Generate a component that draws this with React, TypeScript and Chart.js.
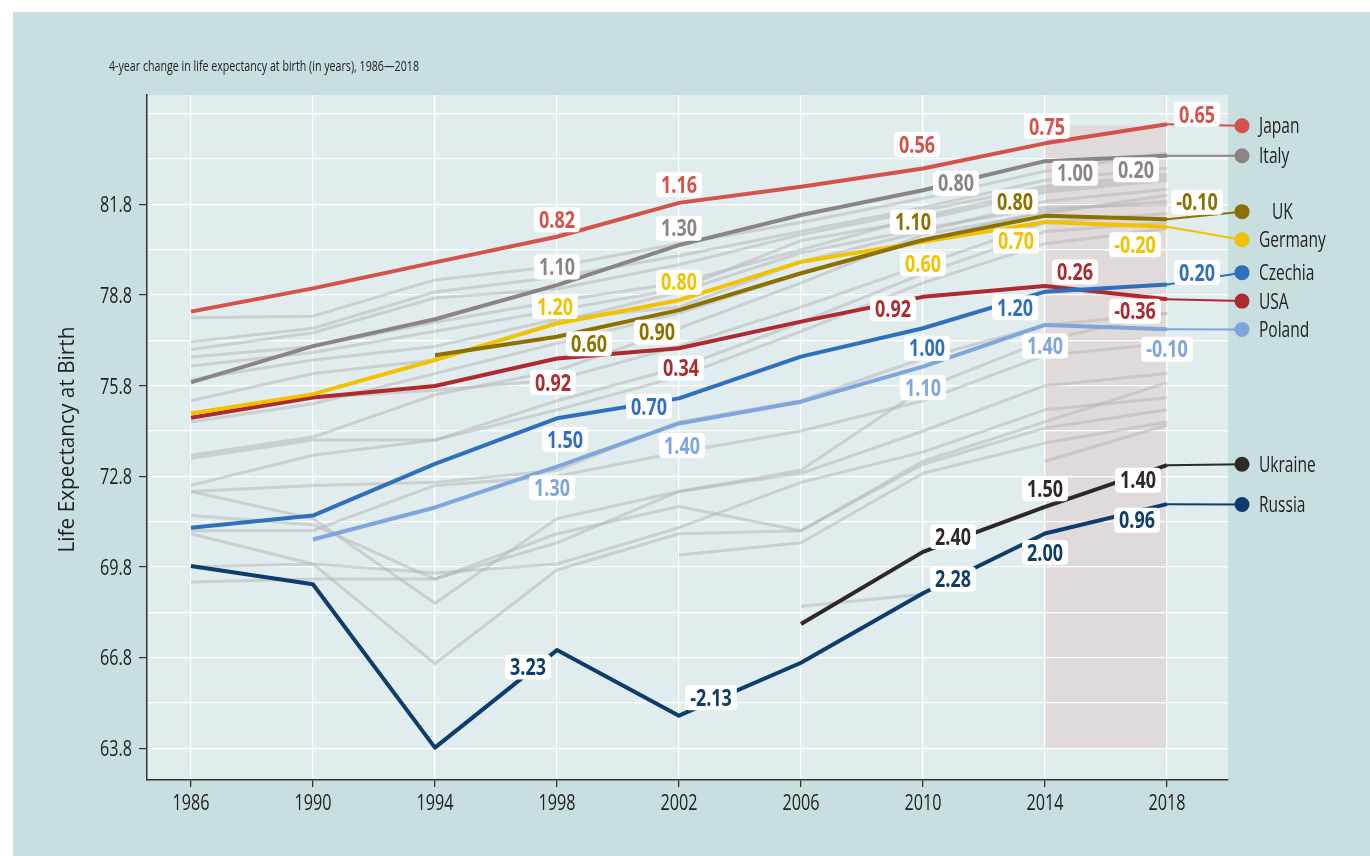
import React, { useEffect, useRef } from 'react';
import { Chart, registerables } from 'chart.js';

Chart.register(...registerables);

const FONT = "'Open Sans', 'Liberation Sans', 'DejaVu Sans', sans-serif";

// ---------- data ----------
const years = [1986, 1990, 1994, 1998, 2002, 2006, 2010, 2014, 2018];
const xTickYears = [1986, 1990, 1994, 1998, 2002, 2006, 2010, 2014, 2018];
const yTickValues = [63.8, 65.3, 66.8, 68.3, 69.8, 71.3, 72.8, 74.3, 75.8, 77.3, 78.8, 80.3, 81.8, 83.3, 84.8];
const yTickLabels = ['63.8', '', '66.8', '', '69.8', '', '72.8', '', '75.8', '', '78.8', '', '81.8', '', ''];

const titleText = '4-year change in life expectancy at birth (in years), 1986\u20142018';
const yTitleText = 'Life Expectancy at Birth';

const japan = [78.25, 79.02, 79.88, 80.73, 81.85, 82.38, 82.99, 83.82, 84.45];
const italy = [75.91, 77.11, 78.0, 79.13, 80.45, 81.45, 82.27, 83.23, 83.41];
const uk = [null, null, 76.81, 77.42, 78.3, 79.52, 80.62, 81.42, 81.31];
const germany = [74.88, 75.52, 76.65, 77.86, 78.63, 79.9, 80.56, 81.22, 81.06];
const czechia = [71.1, 71.5, 73.21, 74.72, 75.38, 76.76, 77.7, 78.91, 79.15];
const usa = [74.74, 75.41, 75.79, 76.7, 77.04, 77.92, 78.74, 79.1, 78.66];
const poland = [null, 70.71, 71.77, 73.12, 74.55, 75.27, 76.43, 77.81, 77.67];
const ukraine = [null, null, null, null, null, 67.91, 70.3, 71.79, 73.17];
const russia = [69.83, 69.23, 63.82, 67.05, 64.88, 66.63, 68.93, 70.91, 71.88];

const japanChange = [null, null, null, 0.82, 1.16, null, 0.56, 0.75, 0.65];
const italyChange = [null, null, null, 1.1, 1.3, null, 0.8, 1.0, 0.2];
const ukChange = [null, null, null, 0.6, 0.9, null, 1.1, 0.8, -0.1];
const germanyChange = [null, null, null, 1.2, 0.8, null, 0.6, 0.7, -0.2];
const czechiaChange = [null, null, null, 1.5, 0.7, null, 1.0, 1.2, 0.2];
const usaChange = [null, null, null, 0.92, 0.34, null, 0.92, 0.26, -0.36];
const polandChange = [null, null, null, 1.3, 1.4, null, 1.1, 1.4, -0.1];
const ukraineChange = [null, null, null, null, null, null, 2.4, 1.5, 1.4];
const russiaChange = [null, null, null, 3.23, -2.13, null, 2.28, 2.0, 0.96];

const seriesNames = ['Japan', 'Italy', 'UK', 'Germany', 'Czechia', 'USA', 'Poland', 'Ukraine', 'Russia'];
// where each legend entry sits, in life-expectancy units
const legendAt = [84.4, 83.41, 81.56, 80.63, 79.54, 78.6, 77.66, 73.2, 71.87];

const shadeFrom = 2014;
const shadeTo = 2018;
const shadeTop = 84.4;
const shadeBottom = 63.8;

// other countries (grey background lines)
const grey1 = [78.05, 78.1, 79.3, 79.75, 80.5, 81.2, 82.0, 82.9, 83.5];
const grey2 = [77.25, 77.7, 78.9, 79.4, 80.1, 80.9, 81.7, 82.6, 83.0];
const grey3 = [77.0, 77.55, 78.7, 79.0, 79.8, 80.8, 81.6, 82.4, 82.8];
const grey4 = [76.75, 77.1, 77.9, 78.6, 79.2, 80.3, 81.4, 82.3, 82.7];
const grey5 = [76.45, 76.9, 77.6, 78.3, 79.0, 80.6, 81.3, 82.2, 82.6];
const grey6 = [76.0, 76.65, 77.1, 78.0, 78.4, 79.9, 80.9, 81.9, 82.3];
const grey7 = [75.3, 76.2, 76.65, 77.9, 78.9, 80.2, 81.0, 81.7, 81.8];
const grey8 = [74.6, 75.2, 76.2, 77.2, 78.2, 79.5, 80.6, 81.6, 81.9];
const grey9 = [74.9, 75.4, 75.65, 76.0, 77.1, 78.4, 79.8, 81.2, 81.5];
const grey10 = [73.5, 74.1, 75.5, 76.3, 77.7, 79.2, 80.8, 81.5, 82.1];
const grey11 = [73.4, 74.0, 74.0, 75.3, 76.4, 77.9, 79.5, 80.9, 81.2];
const grey12 = [72.5, 73.5, 74.0, 75.0, 76.1, 77.6, 79.2, 80.5, 81.0];
const grey13 = [72.3, 71.4, 68.6, 71.4, 72.3, 73.0, 75.7, 77.3, 78.2];
const grey14 = [70.9, 69.9, 66.6, 69.7, 70.9, 71.0, 73.2, 74.4, 75.0];
const grey15 = [71.5, 71.2, 69.4, 70.9, 71.8, 71.0, 73.3, 74.6, 75.9];
const grey16 = [69.3, 69.4, 69.4, 70.6, 72.3, 72.9, 74.3, 75.8, 76.2];
const grey17 = [71.0, 71.0, 72.5, 72.8, 73.6, 74.3, 75.3, 76.8, 77.2];
const grey18 = [72.3, 72.5, 72.6, 73.0, 74.6, 75.3, 76.7, 77.8, 78.2];
const grey19 = [69.8, 69.9, 69.6, 69.9, 71.1, 72.6, 73.6, 75.0, 75.4];
const grey20 = [null, null, null, null, 70.2, 70.6, 72.9, 73.9, 74.6];
const grey21 = [null, null, null, null, null, 68.5, 68.9, null, null];
const grey22 = [null, null, null, null, null, null, null, 73.3, 74.5];

const greySeries = [grey1, grey2, grey3, grey4, grey5, grey6, grey7, grey8, grey9, grey10, grey11,
  grey12, grey13, grey14, grey15, grey16, grey17, grey18, grey19, grey20, grey21, grey22];
const mainSeries = [japan, italy, uk, germany, czechia, usa, poland, ukraine, russia];
const mainChanges = [japanChange, italyChange, ukChange, germanyChange, czechiaChange, usaChange,
  polandChange, ukraineChange, russiaChange];

// ---------- styles ----------
const seriesColors = ['#d5524b', '#8a8485', '#8b7100', '#f2c100', '#2f70bd', '#ae2a2e', '#7ea6dc', '#2e2829', '#0c3d6c'];
// label offsets from the point, in pixels [dx, dy], per year index
const labelOffsets = [
  [null, null, null, [0, -17], [0, -18], null, [-6, -24], [2, -17], [30, -10]],
  [null, null, null, [0, -18], [0, -17], null, [33, -7], [30, 12], [-31, 14]],
  [null, null, null, [32, 7], [-22, 22], null, [-10, -18], [-30, -14], [30, -17]],
  [null, null, null, [-2, -17], [0, -18], null, [0, 22], [-29, 19], [-32, 18]],
  [null, null, null, [8, 21], [-30, 8], null, [4, 20], [-30, 16], [30, -12]],
  [null, null, null, [-4, 24], [2, 20], null, [-30, 12], [30, -14], [-32, 12]],
  [null, null, null, [-5, 21], [3, 22], null, [0, 21], [0, 21], [0, 20]],
  [null, null, null, null, null, null, [30, -15], [0, -18], [-29, 15]],
  [null, null, null, [-29, 17], [32, -18], null, [30, -14], [0, 19], [-30, 16]],
];
const legendIndent = [0, 0, 13, 0, 0, 0, 0, 0, 0];
const CAP = 0.714; // cap height ratio of the font
const NARROW = 0.74; // horizontal condensing of regular text
const NARROW_BOLD = 0.78;

const W = 1357;
const H = 844;

function toPoints(arr: (number | null)[]) {
  const pts: { x: number; y: number }[] = [];
  arr.forEach((v, i) => {
    if (v !== null && v !== undefined) pts.push({ x: years[i], y: v });
  });
  return pts;
}

function roundRect(ctx: CanvasRenderingContext2D, x: number, y: number, w: number, h: number, r: number) {
  ctx.beginPath();
  ctx.moveTo(x + r, y);
  ctx.lineTo(x + w - r, y);
  ctx.quadraticCurveTo(x + w, y, x + w, y + r);
  ctx.lineTo(x + w, y + h - r);
  ctx.quadraticCurveTo(x + w, y + h, x + w - r, y + h);
  ctx.lineTo(x + r, y + h);
  ctx.quadraticCurveTo(x, y + h, x, y + h - r);
  ctx.lineTo(x, y + r);
  ctx.quadraticCurveTo(x, y, x + r, y);
  ctx.closePath();
}

// draw text with its vertical centre (of the cap height) at cy, condensed by sx
function drawText(ctx: CanvasRenderingContext2D, text: string, x: number, cy: number, size: number,
  weight: string, sx: number, align: CanvasTextAlign, color: string) {
  ctx.save();
  ctx.font = `${weight} ${size}px ${FONT}`;
  ctx.fillStyle = color;
  ctx.textAlign = align;
  ctx.textBaseline = 'alphabetic';
  ctx.translate(x, cy + (size * CAP) / 2);
  ctx.scale(sx, 1);
  ctx.fillText(text, 0, 0);
  ctx.restore();
}

const decorPlugin = {
  id: 'decor',
  beforeDraw(chart: any) {
    const { ctx, chartArea, scales } = chart;
    const xs = scales.x;
    const ys = scales.y;
    ctx.save();
    ctx.fillStyle = '#e0eced';
    ctx.fillRect(chartArea.left, chartArea.top, chartArea.right - chartArea.left, chartArea.bottom - chartArea.top);
    const x0 = xs.getPixelForValue(shadeFrom);
    const x1 = xs.getPixelForValue(shadeTo);
    const y0 = ys.getPixelForValue(shadeTop);
    const y1 = ys.getPixelForValue(shadeBottom);
    ctx.fillStyle = '#e0dadb';
    ctx.fillRect(x0, y0, x1 - x0, y1 - y0);
    ctx.restore();
  },
  afterDraw(chart: any) {
    const { ctx, scales, chartArea } = chart;
    const xs = scales.x;
    const ys = scales.y;
    ctx.save();

    // tick labels (from the library's ticks)
    xs.ticks.forEach((t: any, i: number) => {
      const px = xs.getPixelForTick(i);
      drawText(ctx, String(t.label), px, chartArea.bottom + 22, 22, 'normal', 0.735, 'center', '#222222');
    });
    ys.ticks.forEach((t: any, i: number) => {
      if (!t.label) return;
      const py = ys.getPixelForTick(i);
      drawText(ctx, String(t.label), chartArea.left - 15, py, 22, 'normal', 0.735, 'right', '#222222');
    });

    // title, fitted to its width in the original
    ctx.font = `normal 14.5px ${FONT}`;
    const tw = ctx.measureText(titleText).width;
    drawText(ctx, titleText, 96, 54, 14.5, 'normal', 310 / tw, 'left', '#222222');

    // y axis title
    ctx.save();
    ctx.font = `normal 22px ${FONT}`;
    const yw = ctx.measureText(yTitleText).width;
    ctx.translate(53, (chartArea.top + chartArea.bottom) / 2 + 2);
    ctx.rotate(-Math.PI / 2);
    drawText(ctx, yTitleText, 0, 0, 22, 'normal', 226 / yw, 'center', '#222222');
    ctx.restore();

    // legend leaders + markers + names
    const markerX = chartArea.right + 14;
    mainSeries.forEach((arr, si) => {
      const lastIdx = arr.length - 1;
      const ex = xs.getPixelForValue(years[lastIdx]);
      const ey = ys.getPixelForValue(arr[lastIdx] as number);
      const my = ys.getPixelForValue(legendAt[si]);
      ctx.strokeStyle = seriesColors[si];
      ctx.lineWidth = 2;
      ctx.beginPath();
      ctx.moveTo(ex, ey);
      ctx.lineTo(markerX, my);
      ctx.stroke();
      ctx.fillStyle = seriesColors[si];
      ctx.beginPath();
      ctx.arc(markerX, my, 7.5, 0, Math.PI * 2);
      ctx.fill();
      drawText(ctx, seriesNames[si], markerX + 17 + legendIndent[si], my, 21, 'normal', NARROW, 'left', '#222222');
    });

    // value labels
    mainSeries.forEach((arr, si) => {
      const changes = mainChanges[si];
      changes.forEach((c, i) => {
        if (c === null || c === undefined) return;
        const off = labelOffsets[si][i] as number[] | null;
        if (!off) return;
        const px = xs.getPixelForValue(years[i]) + off[0];
        const py = ys.getPixelForValue(arr[i] as number) + off[1];
        const text = (c as number).toFixed(2);
        ctx.font = `bold 23px ${FONT}`;
        const w = ctx.measureText(text).width * NARROW_BOLD;
        const bw = w + 10;
        const bh = 25;
        ctx.fillStyle = '#ffffff';
        roundRect(ctx, px - bw / 2, py - bh / 2, bw, bh, 4);
        ctx.fill();
        drawText(ctx, text, px, py, 23, 'bold', NARROW_BOLD, 'center', seriesColors[si]);
      });
    });
    ctx.restore();
  },
};

export default function App() {
  const ref = useRef<HTMLCanvasElement | null>(null);
  useEffect(() => {
    const canvas = ref.current;
    if (!canvas) return;
    const datasets: any[] = [];
    greySeries.forEach((g, i) => {
      datasets.push({
        label: 'other ' + (i + 1),
        data: toPoints(g),
        borderColor: 'rgba(180,180,180,0.5)',
        borderWidth: 3,
        pointRadius: 0,
        order: 50,
      });
    });
    mainSeries.forEach((s, i) => {
      datasets.push({
        label: seriesNames[i],
        data: toPoints(s),
        borderColor: seriesColors[i],
        borderWidth: 4,
        pointRadius: 0,
        order: i + 1,
      });
    });
    const chart = new Chart(canvas, {
      type: 'line',
      data: { datasets },
      options: {
        responsive: false,
        animation: false,
        events: [],
        layout: { padding: { left: 0, top: 83, right: 142, bottom: 0 } },
        plugins: { legend: { display: false }, tooltip: { enabled: false }, title: { display: false } },
        elements: { line: { tension: 0, borderJoinStyle: 'round', borderCapStyle: 'butt' }, point: { radius: 0 } },
        scales: {
          x: {
            type: 'linear',
            min: 1984.56,
            max: 2020,
            afterBuildTicks: (s: any) => { s.ticks = xTickYears.map((v) => ({ value: v })); },
            afterFit: (s: any) => { s.height = 76; },
            grid: { color: '#ffffff', lineWidth: 1.3, tickColor: '#333333', tickLength: 7, drawTicks: true },
            border: { display: true, color: '#333333', width: 1.5 },
            ticks: {
              display: false,
              autoSkip: false,
              maxRotation: 0,
              callback: (v: any) => String(v),
            },
          },
          y: {
            type: 'linear',
            min: 62.75,
            max: 85.42,
            afterBuildTicks: (s: any) => { s.ticks = yTickValues.map((v) => ({ value: v })); },
            afterFit: (s: any) => { s.width = 134; },
            grid: {
              color: '#ffffff',
              lineWidth: 1.2,
              tickLength: 8,
              tickColor: (c: any) => (yTickLabels[c.index] ? '#333333' : 'rgba(0,0,0,0)'),
            },
            border: { display: true, color: '#333333', width: 1.5 },
            ticks: {
              display: false,
              autoSkip: false,
              callback: (_v: any, i: number) => yTickLabels[i],
            },
          },
        },
      } as any,
      plugins: [decorPlugin],
    });
    return () => chart.destroy();
  }, []);

  return (
    <div style={{ position: 'absolute', left: 13, top: 12, width: W, height: H, background: '#c8dedf' }}>
      <canvas ref={ref} width={W} height={H} style={{ width: W, height: H, display: 'block' }} />
    </div>
  );
}
